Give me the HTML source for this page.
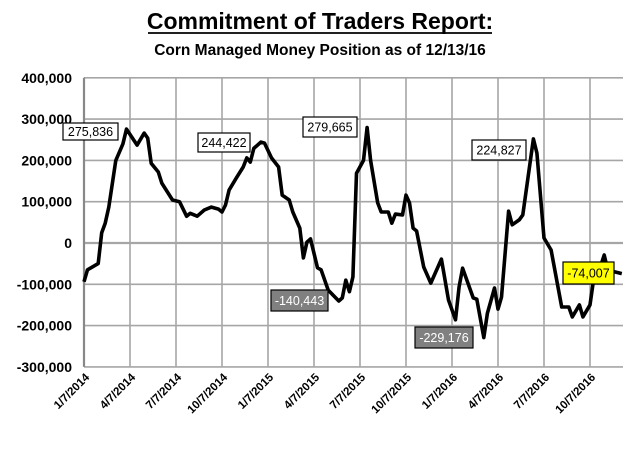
<!DOCTYPE html>
<html><head><meta charset="utf-8"><style>
body{margin:0;background:#fff;font-family:"Liberation Sans",Arial,sans-serif}
svg text{font-family:"Liberation Sans",Arial,sans-serif}
</style></head><body>
<svg width="638" height="444" viewBox="0 0 638 444" xmlns="http://www.w3.org/2000/svg">
<text x="320" y="29" text-anchor="middle" font-size="23" font-weight="bold">Commitment of Traders Report:</text>
<line x1="148" y1="33" x2="492" y2="33" stroke="#000" stroke-width="1.8"/>
<text x="320" y="55" text-anchor="middle" font-size="15.5" font-weight="bold">Corn Managed Money Position as of 12/13/16</text>
<g id="grid"></g>
<g id="axes"></g>
<path id="line" fill="none" stroke="#000" stroke-width="3.6" stroke-linejoin="round"/>
<g id="labels"></g>
</svg>
<script>
const yTicks=[400000,300000,200000,100000,0,-100000,-200000,-300000];
const yTickLabels=["400,000","300,000","200,000","100,000","0","-100,000","-200,000","-300,000"];
const xTickLabels=["1/7/2014","4/7/2014","7/7/2014","10/7/2014","1/7/2015","4/7/2015","7/7/2015","10/7/2015","1/7/2016","4/7/2016","7/7/2016","10/7/2016"];
const weeks=[0,1,4,5,6,7,9,11,12,15,17,18,19,21,22,25,27,29,30,32,34,36,38,39,40,41,43,45,46,47,48,50,51,53,55,56,58,59,61,62,63,64,66,67,69,72,73,74,75,76,77,79,80,81,83,84,86,87,88,90,91,92,93,94,96,98,101,103,105,106,107,110,111,113,114,116,117,118,120,121,123,124,127,128,130,132,135,137,138,140,141,143,144,145,147,148,150,152];
const values=[-94000,-65000,-50000,25000,48000,87000,200000,240000,275836,237000,266000,254000,193000,172000,145000,104000,100000,65000,72000,65000,80000,87000,82000,75000,92000,128000,157000,184000,206000,196000,229000,244422,242000,206000,184000,116000,104000,75000,36000,-36000,2000,10000,-60000,-65000,-114000,-140443,-133000,-90000,-118000,-82000,169000,200000,279665,200000,97000,75000,75000,48000,70000,68000,116000,97000,36000,29000,-58000,-97000,-39000,-138000,-186000,-106000,-61000,-133000,-136000,-229176,-170000,-109000,-160000,-131000,77000,44000,56000,68000,252000,218000,12000,-17000,-155000,-155000,-179000,-150000,-179000,-150000,-90000,-82000,-29000,-65000,-70000,-74007];
const notes=[
 {text:"275,836",x:63,y:123,w:55,h:17,bg:"#fff",fg:"#000"},
 {text:"244,422",x:198,y:133,w:52,h:19,bg:"#fff",fg:"#000"},
 {text:"279,665",x:303,y:117,w:54,h:20,bg:"#fff",fg:"#000"},
 {text:"224,827",x:472,y:140,w:54,h:20,bg:"#fff",fg:"#000"},
 {text:"-140,443",x:271,y:290,w:57,h:21,bg:"#808080",fg:"#fff"},
 {text:"-229,176",x:415,y:327,w:58,h:21,bg:"#808080",fg:"#fff"},
 {text:"-74,007",x:563,y:262,w:51,h:22,bg:"#ffff00",fg:"#000"}];
const X0=84,X1=623,WPX=46/13,Y0=243,YPX=41.3/100000;
const xs=w=>X0+w*WPX, ys=v=>Y0-v*YPX;
const NS="http://www.w3.org/2000/svg";
const mk=(t,a,p)=>{const e=document.createElementNS(NS,t);for(const k in a)e.setAttribute(k,a[k]);p.appendChild(e);return e;};
const grid=document.getElementById('grid'),axes=document.getElementById('axes');
yTicks.forEach((v,i)=>{
 const l=mk('line',{x1:X0,x2:X1,y1:ys(v),y2:ys(v),stroke:'#a6a6a6','stroke-width':v===0?2.2:1.6},grid);
 
 
 const t=mk('text',{x:72,y:ys(v)+5,'text-anchor':'end','font-size':14,'font-weight':'bold'},axes);
 t.textContent=yTickLabels[i];
 
 
});
xTickLabels.forEach((s,i)=>{
 const x=xs(i*13);
 const l=mk('line',{x1:x,x2:x,y1:ys(400000),y2:ys(-300000),stroke:i===0?'#888':'#a6a6a6','stroke-width':i===0?2.2:1.6},grid);
 
 
 const t=mk('text',{x:x+6,y:378,'text-anchor':'end','font-size':11.5,'font-weight':'bold',transform:`rotate(-45 ${x+6} 378)`},axes);
 t.textContent=s;
 
 
});
document.getElementById('line').setAttribute('d',weeks.map((w,i)=>(i?'L':'M')+xs(w).toFixed(1)+','+ys(values[i]).toFixed(1)).join(''));
const lab=document.getElementById('labels');
notes.forEach(n=>{
 const r=mk('rect',{x:n.x,y:n.y,width:n.w,height:n.h,fill:n.bg,stroke:'#000','stroke-width':1.2},lab);
 
 
 const t=mk('text',{x:n.x+n.w/2,y:n.y+n.h/2+4.5,'text-anchor':'middle','font-size':12.5,fill:n.fg},lab);
 t.textContent=n.text;
 
 
});
</script>
</body></html>
